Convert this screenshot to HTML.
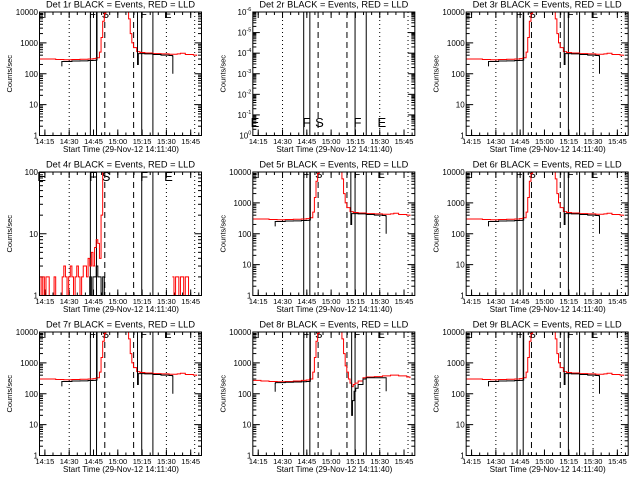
<!DOCTYPE html>
<html><head><meta charset="utf-8"><style>
html,body{margin:0;padding:0;background:#fff;}
svg{display:block;font-family:"Liberation Sans",sans-serif;}
</style></head><body>
<svg id="fig" width="640" height="480" viewBox="0 0 640 480" xmlns="http://www.w3.org/2000/svg"></svg>
<script>
// ---- data (minutes since 14:11:40) ----
const xTickLabels = ["14:15","14:30","14:45","15:00","15:15","15:30","15:45"];
const xTickMinutes = [3.33,18.33,33.33,48.33,63.33,78.33,93.33];
const dottedMinutes = [18.33,78.33,95.8];
const solidMinutes = [31.4,35.2,63.1,70.0];
const dashedMinutes = [40.3,58.1];
const panelNames = ["1r","2r","3r","4r","5r","6r","7r","8r","9r"];

const redT = [0,5,10,15,20,25,30,33,35,37,38,39,40,41,54,55,56,57,58,60,62,65,70,75,80,85,87,90,95,97];
const redV = [300,300,290,285,290,295,300,310,330,500,1500,5000,9000,15000,15000,6000,2000,1000,700,520,490,470,450,440,430,440,460,420,400,380];
const blackT = [13.5,13.8,14,20,25,30,33,35,35.5,60,60.5,61,61.5,65,70,75,80,82,82.3];
const blackV = [180,250,250,260,262,268,272,280,30000,30000,200,450,450,440,420,400,390,380,100];

const red8T = [0,5,10,15,20,25,30,33,35,37,38,39,40,41,54,55,56,57,58,59,60,61,62,63,65,68,70,75,80,85,90,95,97];
const red8V = [270,260,250,245,250,260,270,280,300,500,1500,5000,9000,15000,15000,6000,2000,800,500,300,220,170,200,220,260,330,350,360,380,400,380,350,320];
const black8T = [13.5,13.8,14,20,25,30,33,35,35.5,60.5,61,61.5,62.5,63.5,65,68,70,75,80,82,82.3];
const black8V = [120,220,230,235,240,245,250,255,30000,30000,20,60,120,150,200,300,330,330,330,330,120];

const red4V = [2,1,2,1,2,2,1,1,1,2,1,1,1,1,2,3,2,1,2,3,2,1,2,3,2,1,2,3,3,2,4,3,5,3,6,8,7,4,20,100,1000,
  null,null,null,null,null,null,null,null,null,null,null,null,null,null,null,null,null,null,null,null,
  null,null,null,null,null,null,null,null,null,null,null,null,null,null,null,null,null,null,null,null,null,
  2,1,2,2,1,2,2,1,2,2,1,null,null,null,null,null,null,null,null];
const black4V = [1,1,1,1,1,1,1,1,1,1,1,1,1,1,1,1,1,1,1,1,1,1,1,1,1,1,1,1,1,1,1,2,1,2,2,3,2,2,1,2,1];

const letterLabels = ["E","F","S","F","E"];
const letterMinutes = [0.5,32.5,40.3,64,78.8];

// ---- drawing ----
const NS="http://www.w3.org/2000/svg";
const svg=document.getElementById('fig');
function mk(tag,attrs,parent){const e=document.createElementNS(NS,tag);for(const k in attrs)e.setAttribute(k,attrs[k]);(parent||svg).appendChild(e);return e;}
const colX=[0,213.33,426.67], rowY=[0,160,320];
const BL=39.5, BR=201.5, BT=12, BB=135.5, TMAX=100;

function drawPanel(i){
  const ox=colX[i%3], oy=rowY[Math.floor(i/3)];
  const g=mk('g',{transform:`translate(${ox.toFixed(2)},${oy})`});
  
  
  let ymin=0,ymax=4;
  if(i===1){ymin=0;ymax=6;}
  if(i===3){ymin=0;ymax=2;}
  const xs=t=>BL+(t/TMAX)*(BR-BL);
  const ys=v=>{const l=Math.log10(Math.max(v,1e-9));return BB-(l-ymin)/(ymax-ymin)*(BB-BT);};
  const cid='clip'+i;
  const cp=mk('clipPath',{id:cid},g);mk('rect',{x:BL,y:BT,width:BR-BL,height:BB-BT},cp);

  const tt=mk('text',{x:120.5,y:7.5,'text-anchor':'middle','font-size':'9.5',textLength:149,lengthAdjust:'spacingAndGlyphs'},g);
  tt.textContent='Det '+panelNames[i]+' BLACK = Events, RED = LLD';
  
  
  const yt=mk('text',{x:0,y:0,'text-anchor':'middle','font-size':'7.5',transform:`translate(12,${(BT+BB)/2}) rotate(-90)`},g);
  yt.textContent='Counts/sec';
  
  
  const xt=mk('text',{x:121,y:152,'text-anchor':'middle','font-size':'8.5',textLength:116,lengthAdjust:'spacingAndGlyphs'},g);
  xt.textContent='Start Time (29-Nov-12 14:11:40)';
  
  

  for(let k=0;k<xTickMinutes.length;k++){
    const x=xs(xTickMinutes[k]);
    mk('line',{x1:x,x2:x,y1:BB,y2:BB-6,stroke:'#000','stroke-width':1},g);
    mk('line',{x1:x,x2:x,y1:BT,y2:BT+6,stroke:'#000','stroke-width':1},g);
    const lb=mk('text',{x:x,y:144,'text-anchor':'middle','font-size':'7.5'},g);
    lb.textContent=xTickLabels[k];
    
    
  }
  for(let m=xTickMinutes[0]-5;m<TMAX;m+=5){
    if(m<0)continue;const x=xs(m);
    mk('line',{x1:x,x2:x,y1:BB,y2:BB-3,stroke:'#000','stroke-width':1},g);
    mk('line',{x1:x,x2:x,y1:BT,y2:BT+3,stroke:'#000','stroke-width':1},g);
  }
  for(let d=ymin;d<=ymax;d++){
    const y=ys(Math.pow(10,d));
    mk('line',{x1:BL,x2:BL+7,y1:y,y2:y,stroke:'#000'},g);
    mk('line',{x1:BR,x2:BR-7,y1:y,y2:y,stroke:'#000'},g);
    const lb=mk('text',{x:BL-1.5,y:y+3,'text-anchor':'end','font-size':'8'},g);
    if(i===1){lb.textContent='10';const s=mk('tspan',{dy:-4,'font-size':'5.5'},lb);s.textContent=(d===0?'0':'-'+d);}
    else lb.textContent=String(Math.pow(10,d));
    
    
    if(d<ymax)for(let m=2;m<10;m++){
      const ym=ys(m*Math.pow(10,d));
      mk('line',{x1:BL,x2:BL+3.5,y1:ym,y2:ym,stroke:'#000'},g);
      mk('line',{x1:BR,x2:BR-3.5,y1:ym,y2:ym,stroke:'#000'},g);
    }
  }
  const vl=mk('g',{},g);
  dottedMinutes.forEach(m=>mk('line',{x1:xs(m),x2:xs(m),y1:BT,y2:BB,stroke:'#000','stroke-dasharray':'1,3'},vl));
  solidMinutes.forEach(m=>mk('line',{x1:xs(m),x2:xs(m),y1:BT,y2:BB,stroke:'#000'},vl));
  dashedMinutes.forEach(m=>mk('line',{x1:xs(m),x2:xs(m),y1:BT,y2:BB,stroke:'#000','stroke-dasharray':'6,4'},vl));
  const big=(i===1||i===3);
  const ly = i===1?127:(i===3?21:18);
  letterMinutes.forEach((m,k)=>{
    const t=mk('text',{x:xs(m)-3,y:ly,'font-size':big?'13':'11','clip-path':big?'':'url(#'+cid+')'},g);
    t.textContent=letterLabels[k];
    
    
  });

  function step(T,V){let d='',prev=null;for(let k=0;k<T.length;k++){
      if(V[k]===null){prev=null;continue;}
      const x=xs(T[k]).toFixed(2),y=ys(V[k]).toFixed(2);
      if(prev===null)d+=`M${x},${y}`;else d+=`L${x},${ys(prev).toFixed(2)}L${x},${y}`;
      prev=V[k];}
    return d;}
  if(i!==1){
    let rT=redT,rV=redV,bT=blackT,bV=blackV;
    if(i===7){rT=red8T;rV=red8V;bT=black8T;bV=black8V;}
    if(i===3){rT=red4V.map((v,k)=>k);rV=red4V;bT=black4V.map((v,k)=>k);bV=black4V;}
    const rp=mk('path',{d:step(rT,rV),fill:'none',stroke:'#f00','stroke-width':1,'clip-path':'url(#'+cid+')'},g);
    
    
    const bp=mk('path',{d:step(bT,bV),fill:'none',stroke:'#000','stroke-width':1,'clip-path':'url(#'+cid+')'},g);
    
    
  }
  const bx=mk('rect',{x:BL,y:BT,width:BR-BL,height:BB-BT,fill:'none',stroke:'#000','stroke-width':1},g);
  
  
}
for(let i=0;i<9;i++)drawPanel(i);
</script>
</body></html>
